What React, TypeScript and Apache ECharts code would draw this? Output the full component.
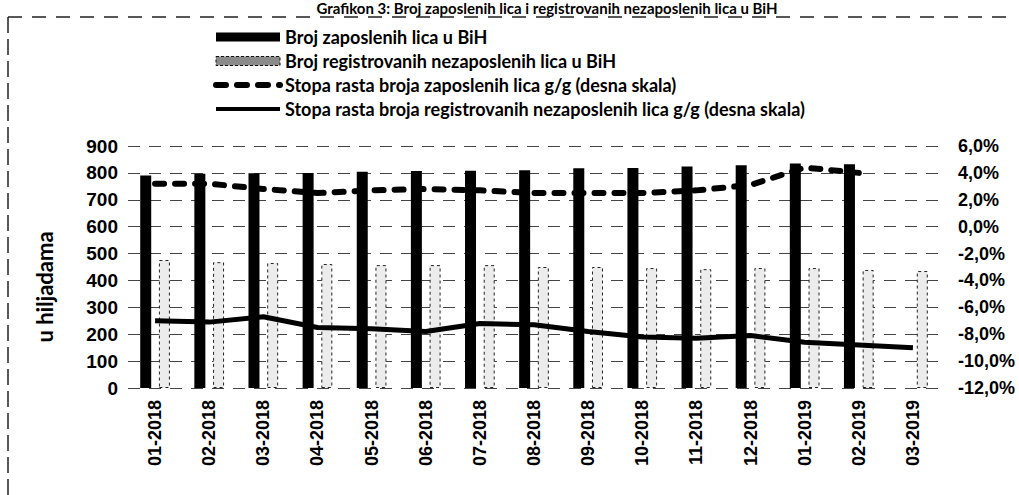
import { useEffect, useRef } from "react";
import * as echarts from "echarts";

const categories = [
  "01-2018", "02-2018", "03-2018", "04-2018", "05-2018", "06-2018", "07-2018", "08-2018",
  "09-2018", "10-2018", "11-2018", "12-2018", "01-2019", "02-2019", "03-2019",
];
const employed = [790, 797, 799, 800, 804, 807, 808, 810, 817, 818, 824, 828, 835, 832, null];
const unemployed = [476, 468, 465, 461, 457, 457, 457, 450, 450, 446, 442, 446, 446, 439, 435];
const employedGrowth = [3.2, 3.2, 2.8, 2.5, 2.7, 2.8, 2.7, 2.5, 2.5, 2.5, 2.7, 3.1, 4.4, 4.0, null];
const unemployedGrowth = [-7.0, -7.1, -6.7, -7.5, -7.6, -7.8, -7.2, -7.3, -7.8, -8.2, -8.3, -8.1, -8.6, -8.8, -9.0];

const seriesNames = [
  "Broj zaposlenih lica u BiH",
  "Broj registrovanih nezaposlenih lica u BiH",
  "Stopa rasta broja zaposlenih lica g/g (desna skala)",
  "Stopa rasta broja registrovanih nezaposlenih lica g/g (desna skala)",
];
const titleText = "Grafikon 3: Broj zaposlenih lica i registrovanih nezaposlenih lica u BiH";
const yAxisName = "u hiljadama";

const AX_FONT = "'Liberation Sans', Arial, sans-serif";
const LEG_FONT = "Lato, 'Liberation Sans', sans-serif";

export default function App() {
  const ref = useRef<HTMLDivElement>(null);
  useEffect(() => {
    const chart = echarts.init(ref.current!, null, { renderer: "svg" });
    const axisLabelStyle = {
      fontFamily: AX_FONT,
      fontWeight: "bold" as const,
      fontSize: 19,
      color: "#000",
    };
    chart.setOption({
      animation: false,
      backgroundColor: "#fff",
      grid: { left: 128, right: 79, top: 146, bottom: 107 },
      legend: {
        orient: "vertical",
        left: 213,
        top: 28,
        padding: 0,
        itemWidth: 64,
        itemHeight: 9,
        itemGap: 6,
        data: [
          { name: seriesNames[0], icon: "rect" },
          {
            name: seriesNames[1],
            icon: "rect",
            itemStyle: { color: "#8a8a8a", borderColor: "#111", borderWidth: 1, borderType: [3, 2] },
          },
          {
            name: seriesNames[2],
            itemStyle: { opacity: 0 },
            lineStyle: { color: "#000", width: 6, type: [10, 11], cap: "round" },
          },
          {
            name: seriesNames[3],
            itemStyle: { opacity: 0 },
            lineStyle: { color: "#000", width: 4 },
          },
        ],
        textStyle: {
          fontFamily: LEG_FONT,
          fontWeight: "bold",
          fontSize: 18,
          lineHeight: 18,
          color: "#000",
        },
      },
      xAxis: {
        type: "category",
        data: categories,
        axisLine: { show: false },
        axisTick: { show: false },
        axisLabel: { ...axisLabelStyle, fontSize: 18, rotate: 90, margin: 12, interval: 0 },
      },
      yAxis: [
        {
          type: "value",
          min: 0,
          max: 900,
          interval: 100,
          axisLine: { show: false },
          axisTick: { show: false },
          axisLabel: { ...axisLabelStyle, margin: 10 },
          splitLine: { show: true, lineStyle: { color: "#444", width: 1, type: [12, 9] } },
        },
        {
          type: "value",
          min: -12,
          max: 6,
          interval: 2,
          position: "right",
          axisLine: { show: false },
          axisTick: { show: false },
          splitLine: { show: false },
          axisLabel: {
            ...axisLabelStyle,
            fontSize: 18,
            margin: 18,
            formatter: (v: number) => v.toFixed(1).replace(".", ",") + "%",
          },
        },
      ],
      series: [
        {
          name: seriesNames[0],
          type: "bar",
          yAxisIndex: 0,
          data: employed,
          barWidth: 11,
          barGap: "70%",
          itemStyle: { color: "#000" },
        },
        {
          name: seriesNames[1],
          type: "bar",
          yAxisIndex: 0,
          data: unemployed,
          barWidth: 11,
          itemStyle: {
            color: "#ececec",
            borderColor: "#222",
            borderWidth: 1,
            borderType: [3, 3],
          },
        },
        {
          name: seriesNames[2],
          type: "line",
          yAxisIndex: 1,
          data: employedGrowth,
          symbol: "none",
          lineStyle: { color: "#000", width: 6, type: [9, 11], cap: "round" },
          itemStyle: { color: "#000" },
          z: 5,
        },
        {
          name: seriesNames[3],
          type: "line",
          yAxisIndex: 1,
          data: unemployedGrowth,
          symbol: "none",
          lineStyle: { color: "#000", width: 5 },
          itemStyle: { color: "#000" },
          z: 5,
        },
      ],
      graphic: [
        {
          type: "text",
          x: 547,
          y: 0,
          style: {
            text: titleText,
            fontFamily: LEG_FONT,
            fontWeight: "bold",
            fontSize: 15,
            fill: "#000",
            textAlign: "center",
            textVerticalAlign: "top",
          },
        },
        {
          type: "text",
          x: 44,
          y: 287,
          rotation: Math.PI / 2,
          style: {
            text: yAxisName,
            fontFamily: LEG_FONT,
            fontWeight: "bold",
            fontSize: 22,
            fill: "#000",
            textAlign: "center",
            textVerticalAlign: "middle",
          },
        },
        {
          type: "line",
          shape: { x1: 8, y1: 17, x2: 1015, y2: 17 },
          style: { stroke: "#222", lineWidth: 1.5, lineDash: [14, 10] },
        },
        {
          type: "line",
          shape: { x1: 8, y1: 17, x2: 8, y2: 495 },
          style: { stroke: "#222", lineWidth: 1.5, lineDash: [16, 6] },
        },
      ],
    });
    return () => chart.dispose();
  }, []);
  return (
    <div
      ref={ref}
      style={{ position: "absolute", left: 0, top: 0, width: 1019, height: 495, background: "#fff" }}
    />
  );
}
